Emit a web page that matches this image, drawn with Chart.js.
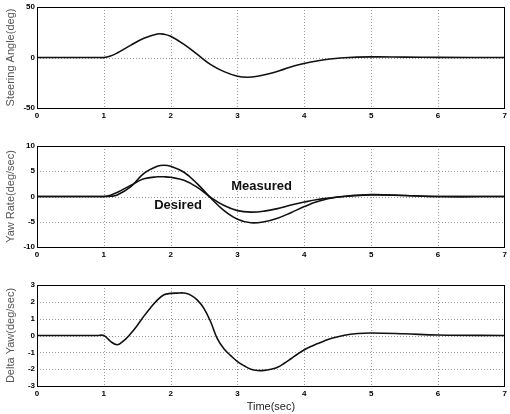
<!DOCTYPE html>
<html><head><meta charset="utf-8">
<script src="https://cdn.jsdelivr.net/npm/chart.js@4/dist/chart.umd.min.js"></script>
<style>
html,body{margin:0;padding:0;background:#fff;}
body{width:510px;height:414px;position:relative;overflow:hidden;}
canvas{position:absolute;left:0;}
</style></head><body>
<canvas id="c1" style="top:0px"></canvas>
<canvas id="c2" style="top:139px"></canvas>
<canvas id="c3" style="top:278px"></canvas>
<script>
// ---- data ----
const xTicks = [0,1,2,3,4,5,6,7];

const steerT = [0,0.5,0.9,1,1.1,1.2,1.4,1.6,1.8,1.9,2.0,2.2,2.4,2.6,2.8,3.0,3.15,3.3,3.5,3.7,3.9,4.1,4.3,4.6,5.0,5.5,6.0,7.0];
const steerV = [0,0,0,0,1.5,4.5,12,19,23.3,23,21,13,3,-7,-14,-18.5,-19.5,-18.5,-15.5,-11.5,-7.5,-4.5,-2.3,-0.3,0.6,0.4,0.1,0];

const yawT = [0,0.5,0.9,1,1.1,1.2,1.4,1.6,1.8,1.9,2.0,2.2,2.4,2.6,2.8,3.0,3.2,3.4,3.6,3.8,4.0,4.2,4.5,5.0,5.5,6.0,7.0];
const measuredV = [0,0,0,0,0.05,0.3,1.9,4.6,6.0,6.2,6.0,4.8,2.5,-0.3,-2.8,-4.5,-5.2,-5.0,-4.3,-3.2,-2.0,-1.0,-0.1,0.4,0.2,0,0];
const desiredV  = [0,0,0,0,0.25,0.8,2.2,3.5,3.9,3.9,3.8,3.2,1.8,-0.2,-1.8,-2.8,-3.1,-2.9,-2.4,-1.7,-1.1,-0.6,-0.1,0.3,0.2,0,0];

const deltaT = [0,0.5,0.9,1.0,1.1,1.2,1.3,1.4,1.5,1.6,1.7,1.8,1.9,2.0,2.1,2.2,2.3,2.4,2.5,2.6,2.7,2.8,2.9,3.0,3.1,3.2,3.3,3.4,3.5,3.6,3.7,3.8,3.9,4.0,4.1,4.2,4.3,4.4,4.6,4.8,5.0,5.5,6.0,7.0];
const deltaV = [0,0,0,0,-0.35,-0.55,-0.3,0.1,0.6,1.15,1.65,2.1,2.42,2.5,2.52,2.52,2.4,2.1,1.6,0.8,-0.2,-0.8,-1.2,-1.55,-1.8,-2.0,-2.08,-2.07,-2.0,-1.88,-1.65,-1.38,-1.1,-0.85,-0.65,-0.48,-0.32,-0.18,0.02,0.12,0.15,0.1,0.03,0];

const steerTicks = [-50,0,50];
const yawTicks = [-10,-5,0,5,10];
const deltaTicks = [-3,-2,-1,0,1,2,3];

const yawLabels = [
  {text:'Desired', x:2.11, y:-1.8},
  {text:'Measured', x:3.36, y:2.0}
];

// ---- helpers ----
const W = 510;
function pts(t,v){ return t.map((x,i)=>({x:x,y:v[i]})); }

const tickFont = {family:'Liberation Sans', size:8, weight:'bold'};

function makeChart(id, h, series, ticks, ytitle, xtitle, extra){
  const cv = document.getElementById(id);
  cv.width = W; cv.height = h;
  cv.style.width = W+'px'; cv.style.height = h+'px';
  const xAxisH = h - 7 - 101;
  return new Chart(cv, {
    type:'line',
    data:{datasets: series.map(s=>({
      data:s, borderColor:'#111', borderWidth:1.6, pointRadius:0,
      tension:0.4, fill:false
    }))},
    options:{
      responsive:false, animation:false, devicePixelRatio:1,
      layout:{padding:{top:7,right:5,left:0,bottom:0}},
      plugins:{legend:{display:false}, tooltip:{enabled:false}},
      scales:{
        x:{type:'linear', min:0, max:7,
          afterBuildTicks:(s)=>{s.ticks = xTicks.map(v=>({value:v}));},
          afterFit:(s)=>{s.height = xAxisH;},
          ticks:{font:tickFont, color:'#000', padding:3, maxRotation:0, autoSkip:false},
          grid:{display:false, drawTicks:false},
          border:{display:true, color:'#000', width:1},
          title:{display:!!xtitle, text:xtitle||'', font:{family:'Liberation Sans', size:11}, color:'#222', padding:{top:0,bottom:0}}
        },
        y:{type:'linear', min:ticks[0], max:ticks[ticks.length-1],
          afterBuildTicks:(s)=>{s.ticks = ticks.map(v=>({value:v}));},
          afterFit:(s)=>{s.width = 37;},
          ticks:{font:tickFont, color:'#000', padding:2, autoSkip:false},
          grid:{display:false, drawTicks:false},
          border:{display:true, color:'#000', width:1},
          title:{display:true, text:ytitle, font:{family:'Liberation Sans', size:11}, color:'#555', padding:{top:4,bottom:2}}
        }
      }
    },
    plugins:[{
      id:'frame_'+id,
      beforeDatasetsDraw(chart){
        const ctx = chart.ctx, a = chart.chartArea;
        ctx.save();
        ctx.strokeStyle = '#9a9a9a'; ctx.lineWidth = 1; ctx.setLineDash([1,2]);
        const xs = chart.scales.x, ys = chart.scales.y;
        ctx.beginPath();
        xTicks.forEach(v=>{ const px = Math.round(xs.getPixelForValue(v))+0.5; if(v>0&&v<7){ctx.moveTo(px,a.top);ctx.lineTo(px,a.bottom);} });
        ticks.forEach((v,i)=>{ if(i>0&&i<ticks.length-1){ const py=Math.round(ys.getPixelForValue(v))+0.5; ctx.moveTo(a.left,py);ctx.lineTo(a.right,py);} });
        ctx.stroke();
        ctx.restore();
      },
      afterDraw(chart){
        const ctx = chart.ctx, a = chart.chartArea;
        ctx.save();
        ctx.strokeStyle = '#000'; ctx.lineWidth = 1;
        ctx.strokeRect(Math.round(a.left)+0.5, Math.round(a.top)+0.5, Math.round(a.right-a.left)-1, Math.round(a.bottom-a.top));
        ctx.restore();
        if(extra) extra(chart);
      }
    }]
  });
}

makeChart('c1', 122, [pts(steerT, steerV)], steerTicks, 'Steering Angle(deg)', null);
makeChart('c2', 122, [pts(yawT, measuredV), pts(yawT, desiredV)], yawTicks, 'Yaw Rate(deg/sec)', null, (chart)=>{
  const ctx = chart.ctx;
  ctx.save();
  ctx.fillStyle = '#111';
  ctx.font = 'bold 13px "Liberation Sans Narrow", "Liberation Sans", sans-serif';
  ctx.textAlign = 'center'; ctx.textBaseline = 'middle';
  yawLabels.forEach(l=>{
    ctx.fillText(l.text, chart.scales.x.getPixelForValue(l.x), chart.scales.y.getPixelForValue(l.y));
  });
  ctx.restore();
});
makeChart('c3', 136, [pts(deltaT, deltaV)], deltaTicks, 'Delta Yaw(deg/sec)', 'Time(sec)');
</script>
</body></html>
